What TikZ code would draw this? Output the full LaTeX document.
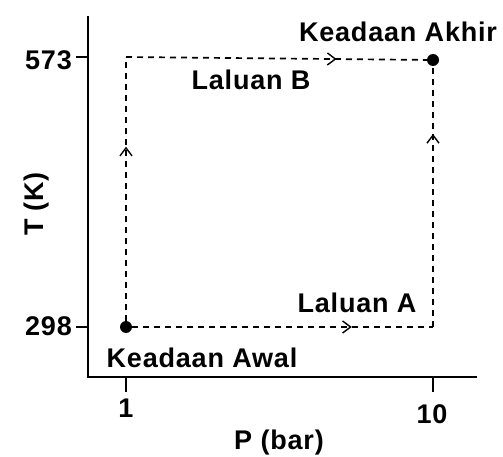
\documentclass[tikz,border=0pt]{standalone}
\usepackage{fontspec}
\setmainfont{Liberation Sans}
\usetikzlibrary{arrows.meta,decorations.markings}

\begin{document}
\begin{tikzpicture}[x=1pt,y=-1pt,
  ax/.style={draw=black,line width=2pt},
  pth/.style={draw=black,line width=1.7pt,dash pattern=on 6pt off 5pt},
  mid/.style={postaction={decorate},decoration={markings,
    mark=at position #1 with {\arrow{Straight Barb[length=8pt,width=12pt,line width=1.4pt]}}}},
  dot/.style={circle,fill=black,minimum size=12pt,inner sep=0pt},
  lab/.style={font=\fontsize{27}{29}\selectfont\bfseries\addfontfeatures{LetterSpace=3},inner sep=0pt,anchor=base}]
  \useasboundingbox (0,0) rectangle (503,457);
  % axes
  \coordinate (o) at (88,377); \coordinate (ytop) at (88,16); \coordinate (xend) at (477,377);
  \draw[ax] (ytop) -- (o) -- (xend);
  \foreach \y in {57,327} \draw[ax] (76,\y) -- (88,\y);
  \foreach \x in {126,433} \draw[ax] (\x,377) -- (\x,392);
  \node[lab,anchor=base east] (t573) at (72,70) {573};
  \node[lab,anchor=base east] (t298) at (72,335) {298};
  \node[lab] (p1) at (126,417) {1};
  \node[lab] (p10) at (432,423) {10};
  \node[lab] (xlab) at (279,449) {P (bar)};
  \node[lab,rotate=90] (ylab) at (43,204) {T (K)};
  % states and paths
  \node[dot] (awal) at (126,327) {};
  \node[dot] (akhir) at (433,60) {};
  \coordinate (cb) at (126,57); \coordinate (ca) at (433,327);
  \draw[pth,mid=0.66] (awal) -- (cb);
  \draw[pth,mid=0.70] (cb) -- (akhir);
  \draw[pth,mid=0.73] (awal) -- (ca);
  \draw[pth,mid=0.74] (ca) -- (akhir);
  \node[lab] (lakhir) at (398,42) {Keadaan Akhir};
  \node[lab] (lawal) at (202,367) {Keadaan Awal};
  \node[lab] (lb) at (251,90) {Laluan B};
  \node[lab] (la) at (357,312) {Laluan A};
\end{tikzpicture}
\end{document}
